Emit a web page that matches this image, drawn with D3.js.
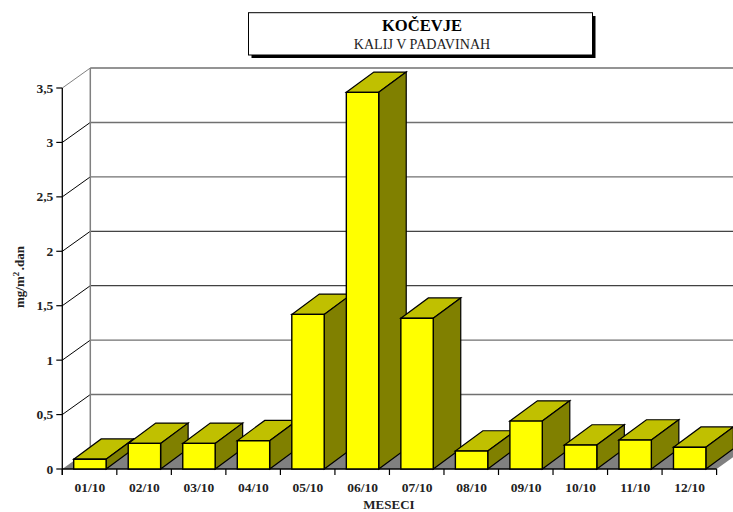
<!DOCTYPE html>
<html><head><meta charset="utf-8">
<script src="https://cdn.jsdelivr.net/npm/d3@7"></script>
<style>html,body{margin:0;padding:0;background:#fff}svg{display:block}text{font-family:"Liberation Serif",serif}</style>
</head><body><div id="c"></div>
<script>
const categories=["01/10","02/10","03/10","04/10","05/10","06/10","07/10","08/10","09/10","10/10","11/10","12/10"];
const values=[0.09,0.235,0.235,0.26,1.42,3.46,1.385,0.165,0.44,0.22,0.266,0.2];
const yTicks=[0,0.5,1,1.5,2,2.5,3,3.5];
const titleLines=["KOČEVJE","KALIJ V PADAVINAH"];
const xTitle="MESECI";
const W=733,H=512,dx=28,dy=-20,barOff=11.4,barW=32.4,bdx=27.5,bdy=-20.3;
const svg=d3.select("#c").append("svg").attr("width",W).attr("height",H);
const x=d3.scaleBand().domain(categories).range([62.3,716.6]);
const y=d3.scaleLinear().domain([0,3.5]).range([469,88]);
const fmt=v=>String(v).replace(".",",");
const poly=(pts,fill,stroke,sw)=>svg.append("path").attr("d","M"+pts.map(p=>p.join(",")).join("L")+"Z").attr("fill",fill).attr("stroke",stroke||"none").attr("stroke-width",sw||0);
const line=(a,b,c,e,s,w)=>svg.append("line").attr("x1",a).attr("y1",b).attr("x2",c).attr("y2",e).attr("stroke",s).attr("stroke-width",w||1);
const x0=x.range()[0],x1=x.range()[1],ya=y(0);
poly([[x0,ya],[x0+dx,ya+dy],[x1+dx,ya+dy],[x1,ya]],"#808080");
yTicks.slice(1).forEach(t=>{
  const dark=t==2||t==1.5;
  line(x0+dx,y(t)+dy,W,y(t)+dy,dark?"#111":"#707070",dark?1:1.4);
  line(x0,y(t),x0+dx,y(t)+dy,t==3.5?"#808080":"#000",1);
});
line(x0+dx,y(3.5)+dy,x0+dx,ya+dy,"#808080",1.5);
line(x0,y(3.5),x0,ya+6,"#000",1.3);
line(x0,ya,x1,ya,"#000",1.3);
yTicks.forEach(t=>{
  line(x0-6,y(t),x0,y(t),"#000",1.2);
  svg.append("text").attr("x",x0-9).attr("y",y(t)+4.5).attr("text-anchor","end").attr("font-size",13.5).attr("font-weight","bold").attr("fill","#222").text(fmt(t));
});
[...categories.map(c=>x(c)),x1].forEach(p=>line(p,ya,p,ya+6,"#000",1.2));
categories.forEach((c,i)=>{
  const l=x(c)+barOff,r=l+barW,t=y(values[i]);
  const g="#000";
  poly([[l,t],[l+bdx,t+bdy],[r+bdx,t+bdy],[r,t]],"#c0c000",g,1.2);
  poly([[r,t],[r+bdx,t+bdy],[r+bdx,ya+bdy],[r,ya]],"#808000",g,1.2);
  poly([[l,t],[r,t],[r,ya],[l,ya]],"#ffff00",g,1.4);
  svg.append("text").attr("x",l+barW/2).attr("y",ya+23).attr("text-anchor","middle").attr("font-size",13.5).attr("font-weight","bold").attr("fill","#222").text(c);
});
svg.append("text").attr("x",389).attr("y",509).attr("text-anchor","middle").attr("font-size",13).attr("font-weight","bold").attr("fill","#222").text(xTitle);
const yl=svg.append("text").attr("transform","translate(24,308) rotate(-90)").attr("font-size",13).attr("font-weight","bold").attr("fill","#222");
yl.append("tspan").text("mg/m");
yl.append("tspan").attr("dy",-5).attr("font-size",9).text("2");
yl.append("tspan").attr("dy",5).attr("dx",1.5).text(".dan");
svg.append("rect").attr("x",251.5).attr("y",16).attr("width",344).attr("height",42).attr("fill","#000");
svg.append("rect").attr("x",248.5).attr("y",12.7).attr("width",344).attr("height",42.3).attr("fill","#fff").attr("stroke","#000").attr("stroke-width",1);
svg.append("text").attr("x",422).attr("y",30.5).attr("text-anchor","middle").attr("font-size",16.6).attr("font-weight","bold").attr("fill","#000").text(titleLines[0]);
svg.append("text").attr("x",422).attr("y",49.3).attr("text-anchor","middle").attr("font-size",14.1).attr("fill","#222").text(titleLines[1]);
</script></body></html>
